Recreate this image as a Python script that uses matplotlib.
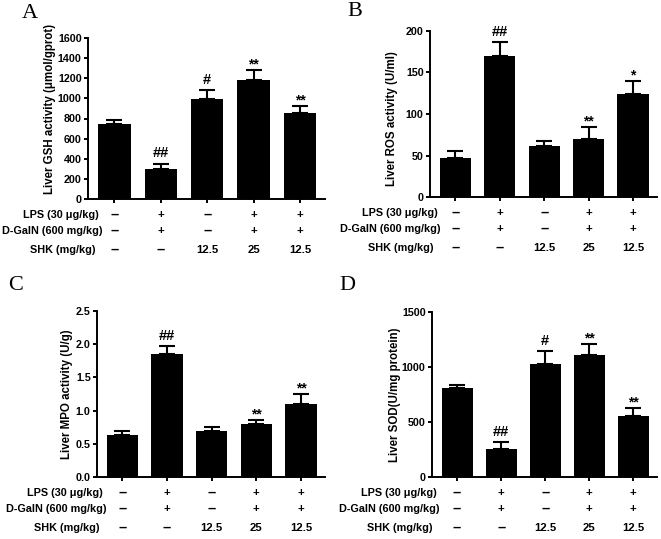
import matplotlib
matplotlib.use("Agg")
import matplotlib.pyplot as plt

plt.rcParams["font.family"] = ["Liberation Sans", "DejaVu Sans"]
plt.rcParams["font.weight"] = "bold"

# treatment table under each panel
row_names = ["LPS (30 μg/kg)", "D-GalN (600 mg/kg)", "SHK (mg/kg)"]
lps = ["–", "+", "–", "+", "+"]
galn = ["–", "+", "–", "+", "+"]
shk = ["–", "–", "12.5", "25", "12.5"]

# A: GSH
gsh_mean = [745, 295, 997, 1179, 854]
gsh_sem = [36, 56, 82, 102, 70]
gsh_marks = ["", "##", "#", "**", "**"]

# B: ROS
ros_mean = [47.5, 170, 61, 70, 124]
ros_sem = [8.5, 16.5, 7, 14, 16]
ros_marks = ["", "##", "", "**", "*"]

# C: MPO
mpo_mean = [0.64, 1.85, 0.70, 0.80, 1.10]
mpo_sem = [0.06, 0.12, 0.06, 0.06, 0.155]
mpo_marks = ["", "##", "", "**", "**"]

# D: SOD
sod_mean = [812, 258, 1030, 1112, 555]
sod_sem = [21, 57, 115, 100, 72]
sod_marks = ["", "##", "#", "**", "**"]

W, H = 661, 539
PT = 0.72  # points per pixel at dpi 100

panels = [
    dict(letter="A", rect=(88, 38, 325, 199), mean=gsh_mean, sem=gsh_sem, marks=gsh_marks,
         ylabel="Liver GSH activity (μmol/gprot)", ymax=1600, yticks=[0, 200, 400, 600, 800, 1000, 1200, 1400, 1600],
         fmt="{:.0f}", lab_dx=38, lab_y=0.56, name_end=102, letter_xy=(30, 13)),
    dict(letter="B", rect=(430, 31, 657, 197), mean=ros_mean, sem=ros_sem, marks=ros_marks,
         ylabel="Liver ROS activity (U/ml)", ymax=200, yticks=[0, 50, 100, 150, 200],
         fmt="{:.0f}", lab_dx=38, lab_y=0.47, name_end=441, letter_xy=(355, 11)),
    dict(letter="C", rect=(97, 311, 325, 477), mean=mpo_mean, sem=mpo_sem, marks=mpo_marks,
         ylabel="Liver MPO activity (U/g)", ymax=2.5, yticks=[0.0, 0.5, 1.0, 1.5, 2.0, 2.5],
         fmt="{:.1f}", lab_dx=30, lab_y=0.5, name_end=106, letter_xy=(16, 286)),
    dict(letter="D", rect=(432, 312, 657, 477), mean=sod_mean, sem=sod_sem, marks=sod_marks,
         ylabel="Liver SOD(U/mg protein)", ymax=1500, yticks=[0, 500, 1000, 1500],
         fmt="{:.0f}", lab_dx=37, lab_y=0.5, name_end=440, letter_xy=(347, 286)),
]

row_dy = [16, 32, 51]
name_shift = [-3, 0, -7]

fig = plt.figure(figsize=(W / 100, H / 100), dpi=100)

for p in panels:
    l, t, r, b = p["rect"]
    ax = fig.add_axes([l / W, 1 - b / H, (r - l) / W, (b - t) / H])
    x = list(range(len(p["mean"])))

    ax.bar(x, p["mean"], width=0.7, color="black", zorder=2)
    ax.errorbar(x, p["mean"], yerr=[[0] * len(x), p["sem"]], fmt="none", ecolor="black",
                elinewidth=1.5, capsize=5.5, capthick=1.5, zorder=3)

    for i in x:
        m = p["marks"][i]
        if m == "":
            continue
        off = 4.5 if "#" in m else 1.0
        ax.annotate(m, xy=(i, p["mean"][i] + p["sem"][i]), xytext=(0, off),
                    textcoords="offset points", ha="center", va="baseline",
                    fontsize=10.5 if "#" in m else 10)

    ax.set_xlim(-0.57, 4.54)
    ax.set_ylim(0, p["ymax"])
    ax.set_yticks(p["yticks"])
    ax.set_yticklabels([p["fmt"].format(v) for v in p["yticks"]])
    ax.set_xticks(x)
    ax.set_xticklabels([])
    for s in ["top", "right"]:
        ax.spines[s].set_visible(False)
    for s in ["left", "bottom"]:
        ax.spines[s].set_linewidth(1.4)
    ax.tick_params(width=1.4, length=3, labelsize=7.7, pad=1.5)

    ax.set_ylabel(p["ylabel"], fontsize=8.3, fontweight="bold", va="center")
    ax.yaxis.set_label_coords(-p["lab_dx"] / (r - l), p["lab_y"])

    for k, vals in enumerate([lps, galn, shk]):
        for i, v in enumerate(vals):
            ax.annotate(v, xy=(i, 0), xycoords=ax.get_xaxis_transform(),
                        xytext=(0, -row_dy[k] * PT), textcoords="offset points",
                        ha="center", va="center", fontsize=10.5 if v == "–" else 8.2)
        ax.annotate(row_names[k], xy=(0, 0), xycoords="axes fraction",
                    xytext=((p["name_end"] + name_shift[k] - l) * PT, -row_dy[k] * PT),
                    textcoords="offset points", ha="right", va="center", fontsize=7.8)

    lx, ly = p["letter_xy"]
    fig.text(lx / W, 1 - ly / H, p["letter"], ha="center", va="center",
             fontsize=16, fontweight="normal", family="Liberation Serif")

fig.savefig("out.png", dpi=100)
